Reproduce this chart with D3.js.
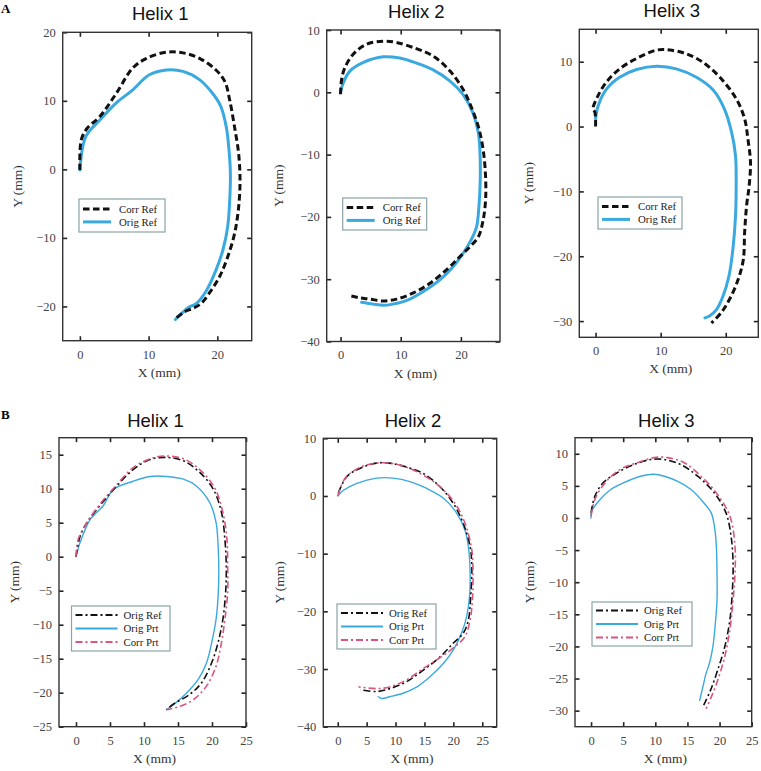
<!DOCTYPE html>
<html>
<head>
<meta charset="utf-8">
<script src="https://cdn.jsdelivr.net/npm/d3@7/dist/d3.min.js"></script>
<style>
  html, body { margin: 0; padding: 0; background: #fff; }
  svg { display: block; }
</style>
</head>
<body>
<svg id="chart" width="761" height="771"></svg>
<script>
// ---------------- DATA (mm) ----------------
// Panel A – Helix 1
const aH1CorrRef = [[0,-0.1],[0.2,4.3],[1.06,6.0],[2.9,7.7],[5.3,11.1],[7.7,14.8],[9.7,16.2],[12.6,17.1],[15,17.0],[17.4,16.2],[19.8,14.5],[21.1,12.8],[21.8,10.1],[22.5,6.2],[23.1,2.3],[23.3,-1.6],[23.1,-5.5],[22.5,-9.4],[21.5,-12.8],[20.3,-15.7],[18.8,-18.1],[17.6,-19.6],[16.4,-20.3],[15.2,-20.8],[13.9,-21.8]];
const aH1OrigRef = [[0,-0.1],[0.87,4.8],[2.9,7.2],[5.3,9.7],[7.7,11.6],[10.1,13.8],[12.6,14.5],[15,14.3],[17.4,13.1],[19.3,11.1],[20.5,9.2],[21.3,6.2],[21.7,2.8],[21.9,-0.6],[21.8,-4.5],[21.5,-8.4],[20.8,-11.8],[19.8,-14.7],[18.4,-17.7],[16.9,-19.6],[15.9,-20.1],[14.7,-21.1],[13.9,-21.9]];
// Panel A – Helix 2
const aH2CorrRef = [[0,-0.3],[0.17,2.0],[0.7,3.9],[2.1,6.1],[4.3,7.7],[7.1,8.2],[9.3,8.0],[12.6,7.0],[15.4,5.8],[18.2,3.4],[20.4,0.4],[21.7,-2.3],[22.9,-5.5],[23.7,-9.2],[24.1,-13.5],[24.1,-17.3],[23.7,-20.5],[22.9,-23.2],[21.5,-24.8],[19.8,-26.4],[17.6,-28.5],[14.8,-30.7],[12.1,-32.2],[9.3,-33.2],[7.1,-33.5],[4.9,-33.2],[3.2,-33.0],[1.8,-32.7]];
const aH2OrigRef = [[0,0],[0.44,1.5],[1.55,3.4],[3.8,4.8],[7.1,5.7],[9.85,5.5],[12.6,4.7],[15.4,3.6],[18.2,1.8],[20.4,-0.4],[22.0,-3.3],[22.9,-6.5],[23.2,-10.3],[23.2,-14.6],[23.0,-18.3],[22.6,-21.6],[21.7,-23.7],[20.4,-25.8],[18.7,-28.0],[16.5,-30.1],[13.7,-32.0],[11.0,-33.4],[8.7,-34.0],[7.1,-34.2],[5.4,-34.0],[3.5,-33.7]];
// Panel A – Helix 3
const aH3CorrRef = [[0,0],[-0.1,2.2],[-0.4,2.7],[0.4,4.8],[1.7,6.9],[3.7,8.9],[6.3,10.5],[9.4,11.8],[11.4,11.8],[14.0,11.2],[16.5,9.9],[19.1,7.6],[21.6,4.3],[22.9,1.2],[23.4,-1.9],[23.8,-5.5],[23.6,-9.1],[23.2,-12.2],[22.9,-16.3],[22.7,-20.5],[21.9,-23.6],[20.6,-26.6],[19.3,-28.7],[17.8,-30.3]];
const aH3OrigRef = [[0,1.2],[0.4,3.2],[1.7,5.8],[3.7,7.6],[6.3,8.8],[9.4,9.3],[12.4,8.9],[15.5,7.6],[18.1,5.6],[19.8,2.7],[20.9,-0.9],[21.5,-4.5],[21.6,-8.6],[21.5,-13.8],[21.1,-18.9],[20.5,-23.0],[19.6,-26.1],[18.6,-28.2],[17.5,-29.2],[16.8,-29.5]];

// Panel B – Helix 1
const bH1OrigRef = [[0,0],[0.6,3.0],[1.6,5.0],[3.5,7.5],[6.0,10.4],[8.4,12.8],[10.9,14.3],[13.3,14.6],[15.8,14.1],[18.2,12.4],[20.2,9.9],[21.4,6.5],[21.9,2.5],[22.1,-1.4],[22.0,-5.3],[21.6,-9.2],[20.9,-12.6],[19.95,-15.6],[18.5,-18.5],[16.8,-20.2],[14.3,-21.7],[13.3,-22.5]];
const bH1OrigPrt = [[0,0],[0.6,2.1],[2.1,5.5],[4.0,7.5],[5.5,9.9],[8.4,11.1],[10.9,11.8],[13.3,11.8],[15.8,11.4],[17.7,10.4],[19.7,7.9],[20.6,5.0],[20.9,1.6],[21.0,-2.4],[20.9,-5.8],[20.6,-9.2],[19.96,-12.6],[19.2,-15.6],[18.0,-18.0],[16.3,-20.0],[15.0,-21.2],[13.3,-22.5]];
const bH1CorrPrt = [[0,0],[0.3,2.5],[1.6,5.0],[3.5,7.7],[6.0,10.6],[8.4,13.1],[10.9,14.4],[12.9,14.8],[15.8,14.4],[18.2,12.8],[20.4,10.1],[21.6,6.5],[22.2,2.5],[22.3,-1.4],[22.3,-5.3],[21.9,-9.2],[21.4,-12.6],[20.6,-16.1],[19.2,-19.0],[17.3,-21.0],[15.3,-22.0],[13.3,-22.5]];
// Panel B – Helix 2
const bH2OrigRef = [[0.1,0.5],[1.6,3.4],[3.9,4.8],[6.7,5.7],[9.0,5.7],[11.9,5.0],[14.8,3.9],[17.7,1.6],[20.0,-1.3],[21.7,-4.7],[22.9,-8.8],[23.2,-12.3],[23.0,-17.5],[22.6,-21.5],[21.7,-23.8],[20.0,-25.5],[17.7,-27.9],[14.8,-30.2],[11.9,-32.2],[9.0,-33.4],[6.7,-33.9],[3.9,-33.6]];
const bH2OrigPrt = [[0,0],[1.0,1.0],[3.3,2.2],[6.7,3.1],[9.6,3.1],[12.5,2.5],[15.4,1.3],[18.3,-0.4],[20.6,-3.0],[22.0,-5.9],[22.6,-8.8],[22.9,-13.4],[22.8,-17.5],[22.3,-20.9],[21.4,-23.8],[20.0,-26.7],[18.3,-29.0],[16.0,-31.3],[13.7,-33.1],[11.3,-34.2],[9.0,-34.8],[7.6,-35.1],[7.0,-34.8]];
const bH2CorrPrt = [[0,0],[1.3,3.1],[3.9,5.0],[6.7,5.7],[9.0,5.7],[11.9,5.0],[14.8,3.6],[17.7,1.6],[20.3,-1.3],[22.0,-4.7],[23.2,-9.4],[23.4,-14.0],[23.3,-18.0],[22.9,-21.5],[22.0,-24.4],[20.3,-26.1],[17.9,-27.9],[14.8,-29.9],[11.9,-31.9],[9.0,-33.1],[6.7,-33.4],[3.6,-33.1]];
// Panel B – Helix 3
const bH3OrigRef = [[0,0.8],[0.6,3.4],[1.9,5.5],[4.0,7.0],[6.6,8.3],[9.3,9.1],[11.4,9.1],[14.0,8.3],[16.6,6.5],[19.2,3.9],[21.0,0.8],[21.8,-2.9],[22.1,-7.0],[22.0,-11.2],[21.6,-15.9],[20.8,-20.1],[19.7,-23.7],[18.6,-26.8],[17.5,-29.2]];
const bH3OrigPrt = [[0,0],[0.1,1.0],[0.9,2.3],[3.0,4.4],[5.1,5.5],[7.7,6.5],[9.8,6.8],[11.4,6.5],[13.5,5.7],[15.6,4.4],[17.6,2.3],[18.7,0.8],[19.2,-1.3],[19.5,-4.4],[19.6,-8.6],[19.6,-12.8],[19.3,-16.9],[18.95,-20.1],[18.4,-22.7],[17.9,-24.2],[17.4,-26.3],[16.9,-28.4]];
const bH3CorrPrt = [[0,0.3],[0.6,2.9],[2.2,5.5],[4.6,7.6],[7.2,8.6],[9.8,9.4],[11.9,9.4],[14.5,8.6],[17.1,6.5],[19.5,3.9],[21.6,0.3],[22.4,-4.4],[22.4,-8.6],[22.1,-12.8],[21.6,-17.4],[20.8,-21.6],[19.7,-25.3],[18.7,-27.9],[17.9,-29.7]];

// Tick values / labels
const panelTitles = ["Helix 1", "Helix 2", "Helix 3"];
const rowLabels = ["A", "B"];
const legendA = ["Corr Ref", "Orig Ref"];
const legendB = ["Orig Ref", "Orig Prt", "Corr Prt"];
const ticksX10 = [0, 10, 20];
const ticksX5 = [0, 5, 10, 15, 20, 25];
const ticksYA1 = [-20, -10, 0, 10, 20];
const ticksYA2 = [-40, -30, -20, -10, 0, 10];
const ticksYA3 = [-30, -20, -10, 0, 10];
const ticksYB1 = [-25, -20, -15, -10, -5, 0, 5, 10, 15];
const ticksYB2 = [-40, -30, -20, -10, 0, 10];
const ticksYB3 = [-30, -25, -20, -15, -10, -5, 0, 5, 10];
const domainsX = [[-2.5, 25], [-2.3, 26.5], [-2.5, 25], [-2.5, 25], [-2.5, 27.5], [-2.5, 25]];
const domainsY = [[-25, 20], [-40, 10], [-32.5, 15], [-25, 17.5], [-40, 10], [-32.5, 12.5]];

// ---------------- STYLES / LAYOUT ----------------
const BLUE = "#3aa9e0", PINK = "#d8557f", BLACK = "#111";
const styleA = [
  {color: BLACK, width: 3, dash: "6.5,3.5"},
  {color: BLUE, width: 3, dash: null}
];
const styleB = [
  {color: BLACK, width: 1.6, dash: "7,3,2,3"},
  {color: BLUE, width: 1.4, dash: null},
  {color: PINK, width: 1.6, dash: "7,3,2,3"}
];

const panels = [
  {frame: [62.7, 32.3, 251.7, 340.7], tx: ticksX10, ty: ticksYA1, series: [aH1CorrRef, aH1OrigRef], names: legendA, styles: styleA,
   legend: [79, 199, 86, 33], ylabX: 18},
  {frame: [326.7, 30, 500, 341.5], tx: ticksX10, ty: ticksYA2, series: [aH2CorrRef, aH2OrigRef], names: legendA, styles: styleA,
   legend: [342.7, 198, 84, 32], ylabX: 279},
  {frame: [579.3, 29.3, 758.3, 337.3], tx: ticksX10, ty: ticksYA3, series: [aH3CorrRef, aH3OrigRef], names: legendA, styles: styleA,
   legend: [598, 197, 84, 32], ylabX: 529},
  {frame: [59, 437.7, 246, 726.7], tx: ticksX5, ty: ticksYB1, series: [bH1OrigRef, bH1OrigPrt, bH1CorrPrt], names: legendB, styles: styleB,
   legend: [71.5, 606, 98.5, 45], ylabX: 15},
  {frame: [323.3, 438.3, 496.7, 726.7], tx: ticksX5, ty: ticksYB2, series: [bH2OrigRef, bH2OrigPrt, bH2CorrPrt], names: legendB, styles: styleB,
   legend: [337, 604, 99, 45], ylabX: 280},
  {frame: [575, 437.7, 751.7, 726.7], tx: ticksX5, ty: ticksYB3, series: [bH3OrigRef, bH3OrigPrt, bH3CorrPrt], names: legendB, styles: styleB,
   legend: [592, 602, 100, 44], ylabX: 530}
];

const svg = d3.select("#chart");
const SERIF = "'Liberation Serif','Times New Roman',serif";
const SANS = "'Liberation Sans',Arial,sans-serif";
const fmt = v => (v < 0 ? "\u2212" + Math.abs(v) : String(v));

panels.forEach((p, i) => {
  const [x0, y0, x1, y1] = p.frame;
  const xs = d3.scaleLinear().domain(domainsX[i]).range([x0, x1]);
  const ys = d3.scaleLinear().domain(domainsY[i]).range([y1, y0]);
  const g = svg.append("g");
  const row = i < 3 ? 0 : 1;

  const cid = "clip" + i;
  svg.append("clipPath").attr("id", cid).append("rect")
    .attr("x", x0).attr("y", y0).attr("width", x1 - x0).attr("height", y1 - y0);

  // series
  const line = d3.line().x(d => xs(d[0])).y(d => ys(d[1])).curve(d3.curveCatmullRom.alpha(0.5));
  const drawOrder = row === 0 ? [1, 0] : [1, 0, 2];
  drawOrder.forEach(k => {
    const st = p.styles[k];
    g.append("path")
      .attr("clip-path", `url(#${cid})`)
      .attr("d", line(p.series[k]))
      .attr("fill", "none")
      .attr("stroke", st.color)
      .attr("stroke-width", st.width)
      .attr("stroke-dasharray", st.dash)
      .attr("stroke-linejoin", "round")
      .attr("stroke-linecap", st.dash ? "butt" : "round");
  });

  // axes with inward ticks on all four sides
  const tickLen = 4.5;
  const axB = d3.axisBottom(xs).tickValues(p.tx).tickSize(-tickLen).tickPadding(9).tickFormat(fmt);
  const axT = d3.axisTop(xs).tickValues(p.tx).tickSize(-tickLen).tickFormat("");
  const axL = d3.axisLeft(ys).tickValues(p.ty).tickSize(-tickLen).tickPadding(7).tickFormat(fmt);
  const axR = d3.axisRight(ys).tickValues(p.ty).tickSize(-tickLen).tickFormat("");
  const gB = g.append("g").attr("transform", `translate(0,${y1})`).call(axB);
  const gT = g.append("g").attr("transform", `translate(0,${y0})`).call(axT);
  const gL = g.append("g").attr("transform", `translate(${x0},0)`).call(axL);
  const gR = g.append("g").attr("transform", `translate(${x1},0)`).call(axR);
  [gB, gT, gL, gR].forEach(a => {
    a.select(".domain").remove();
    a.selectAll(".tick line").attr("stroke", "#222").attr("stroke-width", 1.6);
    a.selectAll("text").attr("font-family", SERIF).attr("font-size", 12.5).attr("fill", "#444");
  });

  // frame
  g.append("rect").attr("x", x0).attr("y", y0).attr("width", x1 - x0).attr("height", y1 - y0)
    .attr("fill", "none").attr("stroke", "#333").attr("stroke-width", 1.4);

  // title
  g.append("text").attr("x", (x0 + x1) / 2 + 3).attr("y", y0 - (row === 0 ? 12 : 11))
    .attr("text-anchor", "middle").attr("font-family", SANS).attr("font-size", 18.5).attr("fill", "#111")
    .text(panelTitles[i % 3]);

  // axis labels
  g.append("text").attr("x", (x0 + x1) / 2 + 2).attr("y", y1 + 36)
    .attr("text-anchor", "middle").attr("font-family", SERIF).attr("font-size", 13.5).attr("fill", "#333")
    .text("X (mm)");
  g.append("text").attr("transform", `translate(${p.ylabX + 4},${(y0 + y1) / 2}) rotate(-90)`)
    .attr("text-anchor", "middle").attr("font-family", SERIF).attr("font-size", 13.5).attr("fill", "#333")
    .text("Y (mm)");

  // legend
  const [lx, ly, lw, lh] = p.legend;
  const lg = g.append("g");
  lg.append("rect").attr("x", lx).attr("y", ly).attr("width", lw).attr("height", lh)
    .attr("fill", "#fff").attr("stroke", "#8aa3a6").attr("stroke-width", 1.2);
  const n = p.names.length;
  const rowH = n === 2 ? 12.8 : 13.4;
  const startY = ly + (lh - rowH * (n - 1)) / 2;
  const lineW = n === 2 ? 28 : 42;
  p.names.forEach((name, k) => {
    const st = p.styles[k];
    const yy = startY + k * rowH;
    lg.append("line").attr("x1", lx + 4).attr("x2", lx + 4 + lineW).attr("y1", yy).attr("y2", yy)
      .attr("stroke", st.color).attr("stroke-width", n === 2 ? st.width : st.width + 0.4)
      .attr("stroke-dasharray", st.dash);
    lg.append("text").attr("x", lx + 4 + lineW + (n === 2 ? 8 : 6)).attr("y", yy + 3.6)
      .attr("font-family", SERIF).attr("font-size", 10.8).attr("fill", "#222").text(name);
  });
});

// row labels
svg.append("text").attr("x", 1).attr("y", 13).attr("font-family", SERIF).attr("font-weight", "bold")
  .attr("font-size", 13).text(rowLabels[0]);
svg.append("text").attr("x", 1).attr("y", 419).attr("font-family", SERIF).attr("font-weight", "bold")
  .attr("font-size", 13).text(rowLabels[1]);
</script>
</body>
</html>
